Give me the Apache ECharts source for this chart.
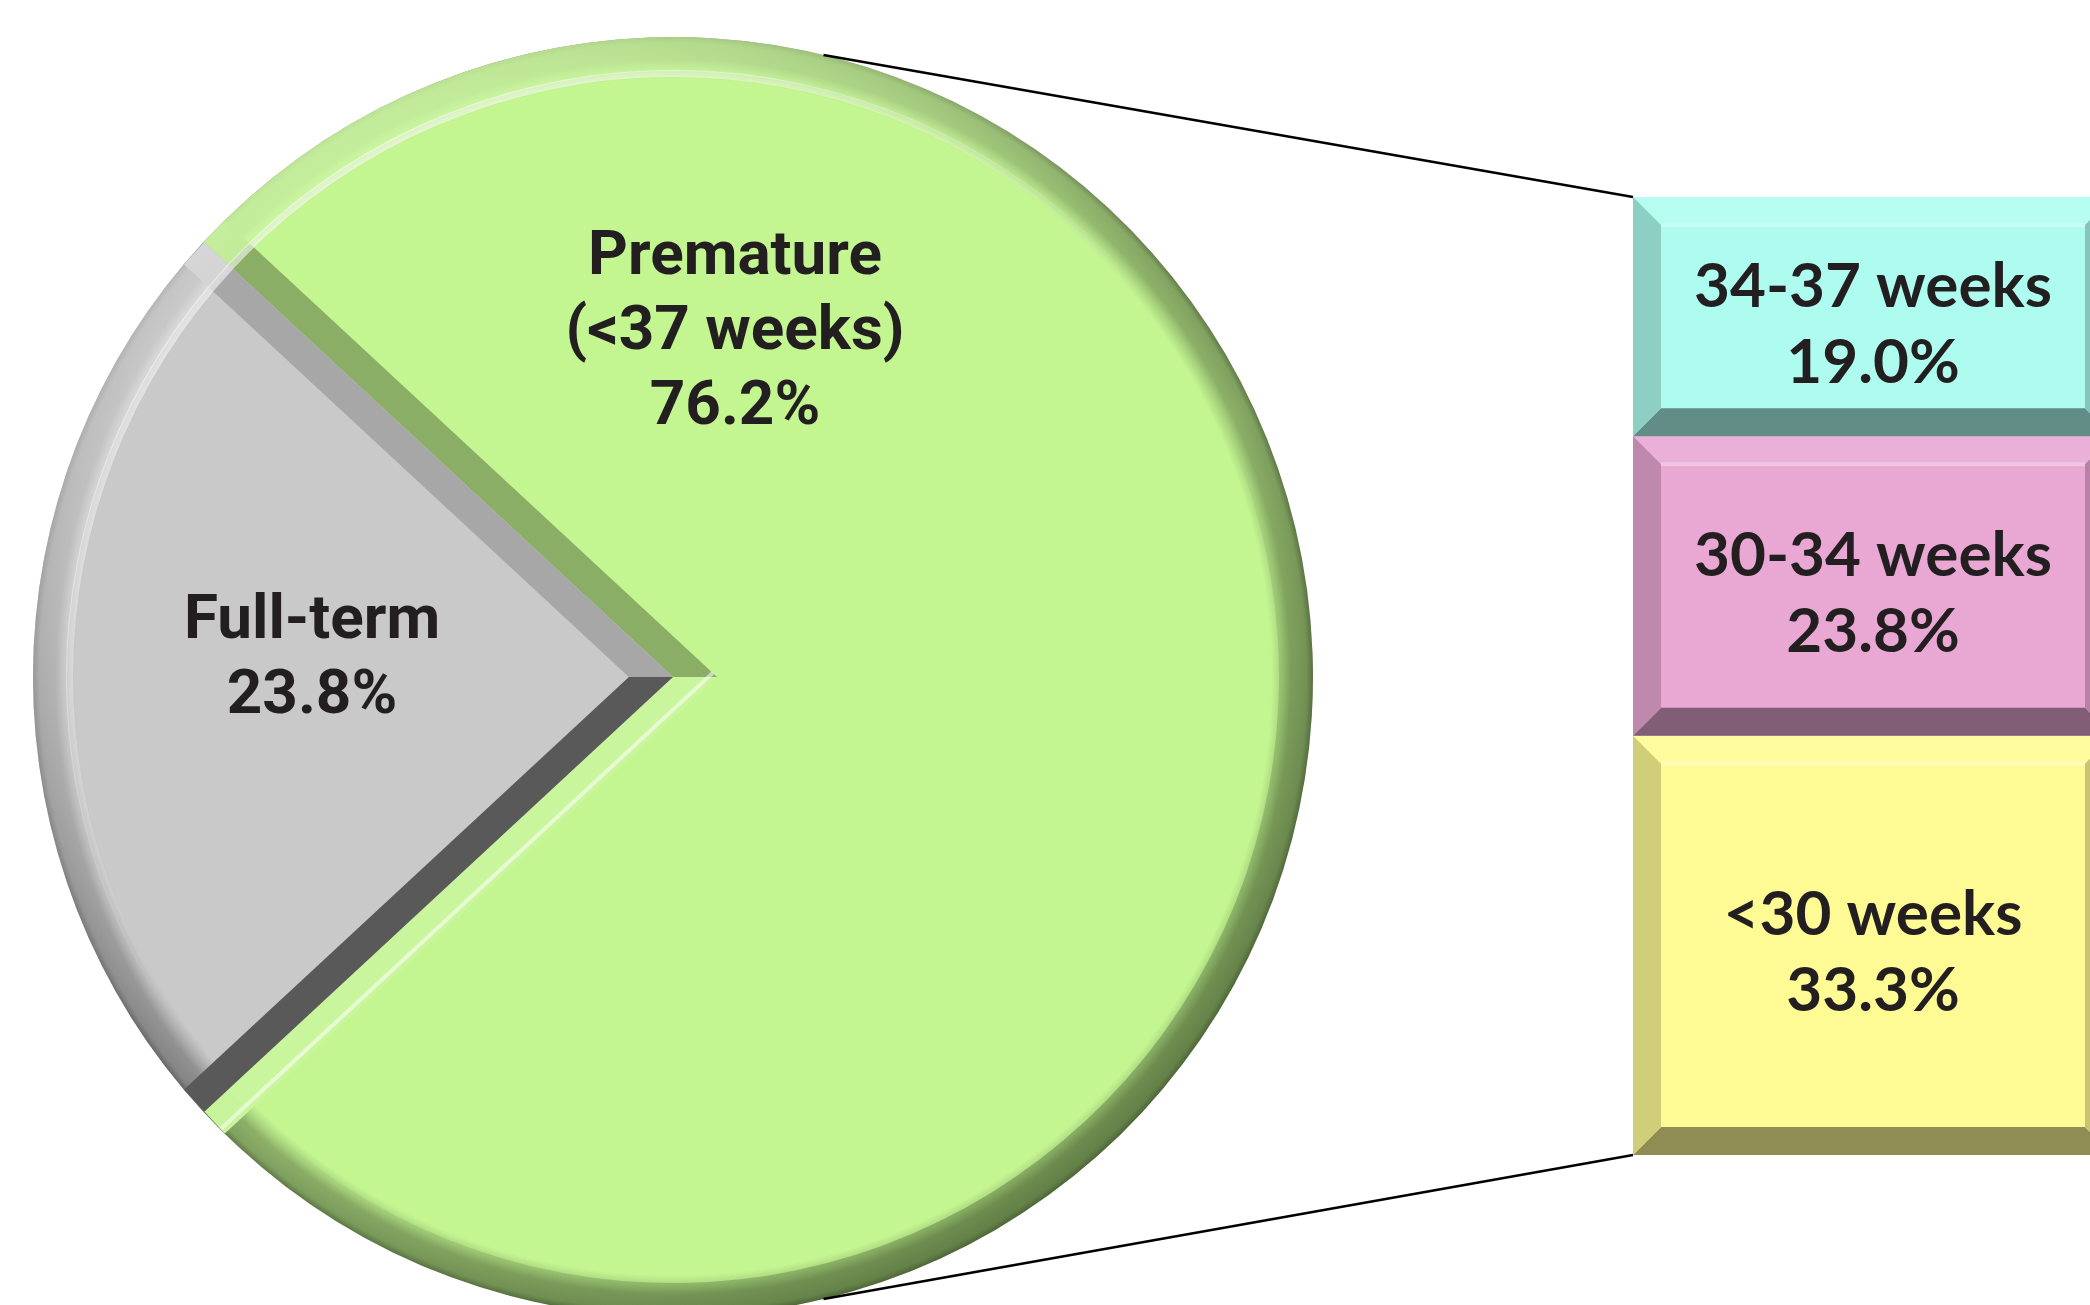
<!DOCTYPE html>
<html><head><meta charset="utf-8">
<script src="https://cdn.jsdelivr.net/npm/echarts@6/dist/echarts.min.js"></script>
<style>html,body{margin:0;padding:0;background:#fff}#c{width:2090px;height:1305px}</style>
</head><body><div id="c"></div>
<script>
// ---- data ----
const pieNames = ['Premature\n(<37 weeks)', 'Full-term'];
const pieValues = [76.2, 23.8];
const barCategory = ['Premature (<37 weeks)'];
const barNames = ['<30 weeks', '30-34 weeks', '34-37 weeks']; // bottom to top
const barValues = [33.3, 23.8, 19.0];

// ---- layout / style ----
const CX = 673, CY = 677, R = 640;
const BEVEL_W = 30;
const pieFace = ['#c3f591', '#c9c9c9'];
const pieRimLight = ['rgba(212,255,170,0.8)', 'rgba(255,255,255,0.55)'];
const pieRimDark = ['rgba(30,50,15,0.3)', 'rgba(0,0,0,0.25)'];
const pieLabelOffset = [[62, -344], [-361, -17]];
const barFace = ['#fffb94', '#e9a7d3', '#adfcef'];
const GRID = {left: 1633, top: 197, width: 480, height: 958};
const BAR_BEVEL = 28;
const LIGHT = [-0.6, -0.8];
const TEXT = '#231f20';

function shade(hex, f) {
  const n = parseInt(hex.slice(1), 16);
  let r = (n >> 16) & 255, g = (n >> 8) & 255, b = n & 255;
  if (f <= 1) { r *= f; g *= f; b *= f; }
  else { const t = Math.min(f - 1, 1); r += (255 - r) * t; g += (255 - g) * t; b += (255 - b) * t; }
  return 'rgb(' + Math.round(r) + ',' + Math.round(g) + ',' + Math.round(b) + ')';
}

const pieTotal = pieValues.reduce((a, b) => a + b, 0);
const startAngle = 180 - (pieValues[1] / pieTotal * 360) / 2;
const barTotal = barValues.reduce((a, b) => a + b, 0);
const barStacks = [];
(function () { let s = 0; barValues.forEach((v, i) => { barStacks.push([0, s, s + v, i]); s += v; }); })();

function pieGradient(face) {
  return {
    type: 'radial', x: CX, y: CY, r: R, global: true,
    colorStops: [
      {offset: 0, color: face},
      {offset: 0.935, color: face},
      {offset: 0.952, color: shade(face, 0.86)},
      {offset: 0.965, color: shade(face, 0.72)},
      {offset: 0.99, color: shade(face, 0.66)},
      {offset: 1, color: shade(face, 0.5)}
    ]
  };
}
function dirGradient(c0, c1) {
  return {
    type: 'linear', global: true,
    x: CX - 0.6 * R, y: CY - 0.8 * R, x2: CX + 0.6 * R, y2: CY + 0.8 * R,
    colorStops: [
      {offset: 0, color: c0},
      {offset: 0.45, color: c0.replace(/[\d.]+\)$/, '0.05)')},
      {offset: 0.6, color: c1.replace(/[\d.]+\)$/, '0)')},
      {offset: 1, color: c1}
    ]
  };
}

const chart = echarts.init(document.getElementById('c'), null, {renderer: 'canvas'});

const option = {
  animation: false,
  backgroundColor: '#ffffff',
  grid: {left: GRID.left, top: GRID.top, width: GRID.width, height: GRID.height, outerBoundsMode: 'none', containLabel: false},
  xAxis: {type: 'category', data: barCategory, show: false},
  yAxis: {type: 'value', min: 0, max: barTotal, show: false},
  series: [
    {
      type: 'pie', name: 'Birth', center: [CX, CY], radius: [0, R],
      startAngle: startAngle, clockwise: true, avoidLabelOverlap: false,
      silent: true, z: 1,
      data: pieValues.map((v, i) => ({
        value: v, name: pieNames[i],
        itemStyle: {color: pieGradient(pieFace[i])},
        label: {offset: pieLabelOffset[i]}
      })),
      label: {
        show: true, position: 'center',
        formatter: p => p.name + '\n' + p.value.toFixed(1) + '%',
        fontFamily: 'Roboto', fontWeight: 'bold', fontSize: 62, lineHeight: 75,
        color: TEXT, align: 'center'
      },
      labelLine: {show: false},
      emphasis: {disabled: true}
    },
    {
      type: 'custom', name: 'pieBevel', coordinateSystem: 'none', silent: true, z: 2,
      data: pieValues.map(v => [v]),
      renderItem: function (params) {
        const i = params.dataIndex;
        let before = 0; for (let k = 0; k < i; k++) before += pieValues[k];
        const a0 = (startAngle - before / pieTotal * 360) * Math.PI / 180;
        const sweep = pieValues[i] / pieTotal * 2 * Math.PI;
        const a1 = a0 - sweep;
        const P = (a, r) => [CX + r * Math.cos(a), CY - r * Math.sin(a)];
        const U = a => [Math.cos(a), -Math.sin(a)];
        const half = sweep / 2;
        const tip = P(a0 - half, BEVEL_W / Math.sin(half));
        const edges = [[a0, a0 - Math.PI / 2], [a1, a1 + Math.PI / 2]];
        const kids = [];
        edges.forEach(([a, na]) => {
          const e = P(a, R - 1);
          const n = U(na);
          const o = [e[0] + BEVEL_W * n[0], e[1] + BEVEL_W * n[1]];
          const dot = -n[0] * LIGHT[0] - n[1] * LIGHT[1];
          const f = 0.77 + 0.33 * dot;
          kids.push({type: 'polygon', shape: {points: [[CX, CY], e, o, tip]}, style: {fill: shade(pieFace[i], f)}});
          if (dot > 0.6) {
            const m1 = [e[0] + 0.8 * BEVEL_W * n[0], e[1] + 0.8 * BEVEL_W * n[1]];
            const t1 = [tip[0] - 0.2 * BEVEL_W * n[0], tip[1] - 0.2 * BEVEL_W * n[1]];
            kids.push({type: 'line', shape: {x1: t1[0], y1: t1[1], x2: m1[0], y2: m1[1]}, style: {stroke: 'rgba(255,255,255,0.55)', lineWidth: 4}});
          }
        });
        return {type: 'group', children: kids};
      }
    },
    {
      type: 'pie', name: 'rimShade', center: [CX, CY], radius: [R - 34, R],
      startAngle: startAngle, clockwise: true, silent: true, z: 3,
      data: pieValues.map((v, i) => ({value: v, itemStyle: {color: dirGradient(pieRimLight[i], pieRimDark[i])}})),
      label: {show: false}, labelLine: {show: false}, emphasis: {disabled: true}
    },
    {
      type: 'pie', name: 'rimGlint', center: [CX, CY], radius: [R - 40, R - 33],
      startAngle: startAngle, clockwise: true, silent: true, z: 3,
      data: pieValues.map(v => ({value: v})),
      label: {show: false}, labelLine: {show: false}, emphasis: {disabled: true},
      itemStyle: {
        color: {
          type: 'linear', global: true,
          x: CX - 0.6 * R, y: CY - 0.8 * R, x2: CX + 0.6 * R, y2: CY + 0.8 * R,
          colorStops: [
            {offset: 0, color: 'rgba(255,255,255,0.6)'},
            {offset: 0.3, color: 'rgba(255,255,255,0.25)'},
            {offset: 0.5, color: 'rgba(255,255,255,0)'},
            {offset: 1, color: 'rgba(255,255,255,0)'}
          ]
        }
      }
    }
  ].concat(barNames.map((nm, i) => ({
    type: 'bar', name: nm, stack: 'premature', data: [barValues[i]],
    barWidth: '100%', silent: true, z: 2,
    itemStyle: {color: barFace[i]},
    label: {
      show: true, position: 'inside', offset: [0, 8],
      formatter: p => p.seriesName + '\n' + p.value.toFixed(1) + '%',
      fontFamily: 'Lato', fontWeight: 'bold', fontSize: 62, lineHeight: 76, color: TEXT
    }
  }))).concat([{
    type: 'custom', name: 'barBevel', coordinateSystem: 'cartesian2d', silent: true, z: 3,
    data: barStacks, encode: {x: 0, y: [1, 2]}, clip: false,
    renderItem: function (params, api) {
      const p0 = api.coord([api.value(0), api.value(1)]);
      const p1 = api.coord([api.value(0), api.value(2)]);
      const w = api.size([1, 0])[0];
      const face = barFace[api.value(3)];
      const x0 = p0[0] - w / 2, x1 = p0[0] + w / 2, yT = p1[1], yB = p0[1], b = BAR_BEVEL;
      return {
        type: 'group',
        children: [
          {type: 'polygon', shape: {points: [[x0, yT], [x1, yT], [x1 - b, yT + b], [x0 + b, yT + b]]}, style: {fill: shade(face, 1.1)}},
          {type: 'polygon', shape: {points: [[x0, yB], [x1, yB], [x1 - b, yB - b], [x0 + b, yB - b]]}, style: {fill: shade(face, 0.56)}},
          {type: 'polygon', shape: {points: [[x0, yT], [x0 + b, yT + b], [x0 + b, yB - b], [x0, yB]]}, style: {fill: shade(face, 0.82)}},
          {type: 'polygon', shape: {points: [[x1, yT], [x1 - b, yT + b], [x1 - b, yB - b], [x1, yB]]}, style: {fill: shade(face, 0.78)}},
          {type: 'line', shape: {x1: x0 + b, y1: yT + b, x2: x1 - b, y2: yT + b}, style: {stroke: shade(face, 1.35), lineWidth: 4}}
        ]
      };
    }
  }])
};

chart.setOption(option);

// connector lines from the pie to the bar
const ang = 13.6 * Math.PI / 180;
const yTopBar = chart.convertToPixel({yAxisIndex: 0}, barTotal);
const yBotBar = chart.convertToPixel({yAxisIndex: 0}, 0);
chart.setOption({
  graphic: [
    {type: 'line', z: 10, shape: {x1: CX + R * Math.sin(ang), y1: CY - R * Math.cos(ang), x2: GRID.left, y2: yTopBar}, style: {stroke: '#000', lineWidth: 2.6}},
    {type: 'line', z: 10, shape: {x1: CX + R * Math.sin(ang), y1: CY + R * Math.cos(ang), x2: GRID.left, y2: yBotBar}, style: {stroke: '#000', lineWidth: 2.6}}
  ]
});
</script>
</body></html>
